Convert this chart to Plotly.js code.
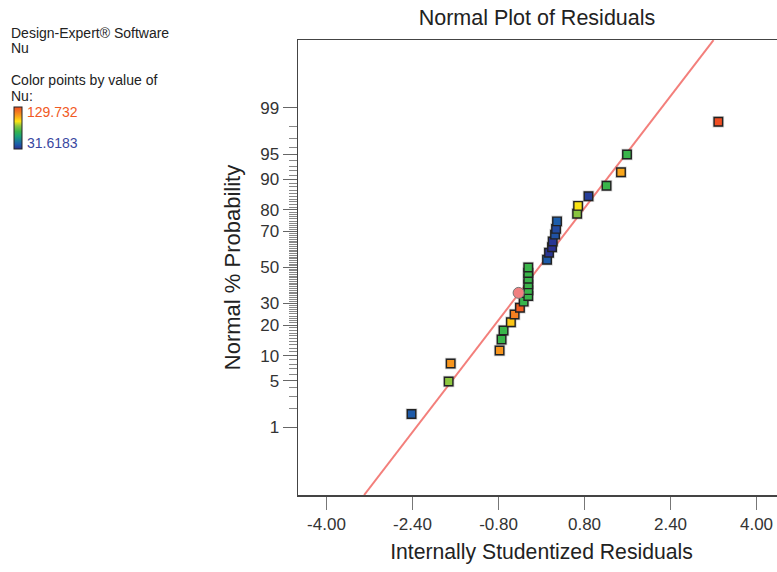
<!DOCTYPE html>
<html>
<head>
<meta charset="utf-8">
<script src="https://cdn.plot.ly/plotly-3.0.1.min.js"></script>
<style>
html,body{margin:0;padding:0;overflow:hidden;background:#fff;}
#chart{width:785px;height:572px;}
</style>
</head>
<body>
<div id="chart"></div>
<script>
// ---- data ----
const residuals = [-2.418, -1.727, -1.690, -0.780, -0.743, -0.706, -0.569, -0.500, -0.401, -0.332,
  -0.246, -0.246, -0.246, -0.246, -0.246, -0.246,
  0.103, 0.140, 0.196, 0.209, 0.252, 0.271, 0.289,
  0.663, 0.681, 0.874, 1.210, 1.479, 1.591, 3.290];
const normalProb = [1.65, 4.86, 8.12, 11.35, 14.73, 17.96, 21.3, 24.7, 27.9, 31.0,
  33.9, 37.1, 40.3, 43.5, 46.8, 50.0,
  54.5, 58.5, 61.6, 64.7, 68.4, 71.3, 74.9,
  78.3, 81.5, 85.0, 88.3, 91.7, 95.0, 98.3];
const nuValues = [42, 85.6, 112, 112, 73, 73, 102, 117, 126, 72,
  73, 73, 73, 73, 73, 73,
  42, 33, 31.6183, 33, 40, 38, 43,
  85, 96, 35, 73, 108, 73, 129.732];
const nuMin = 31.6183;
const nuMax = 129.732;

const highlightResid = [-0.426];
const highlightProb = [35.6];

const fitResid = [-3.30, 3.20];
const fitProb = [0.0466, 99.953];

const xTickVals = [-4.0, -2.4, -0.8, 0.8, 2.4, 4.0];
const yTickProbs = [1, 5, 10, 20, 30, 50, 70, 80, 90, 95, 99];
const yMinorProbs = [];
for (let p = 1; p <= 99; p++) if (yTickProbs.indexOf(p) < 0) yMinorProbs.push(p);

const legendLines = ['Design-Expert® Software', 'Nu', 'Color points by value of', 'Nu:'];

// ---- inverse normal CDF (Acklam) ----
function probit(pct) {
  const p = pct / 100;
  const a = [-3.969683028665376e+01, 2.209460984245205e+02, -2.759285104469687e+02, 1.383577518672690e+02, -3.066479806614716e+01, 2.506628277459239e+00];
  const b = [-5.447609879822406e+01, 1.615858368580409e+02, -1.556989798598866e+02, 6.680131188771972e+01, -1.328068155288572e+01];
  const c = [-7.784894002430293e-03, -3.223964580411365e-01, -2.400758277161838e+00, -2.549732539343734e+00, 4.374664141464968e+00, 2.938163982698783e+00];
  const d = [7.784695709041462e-03, 3.224671290700398e-01, 2.445134137142996e+00, 3.754408661907416e+00];
  const pl = 0.02425, ph = 1 - pl;
  let q, r;
  if (p < pl) {
    q = Math.sqrt(-2 * Math.log(p));
    return (((((c[0]*q+c[1])*q+c[2])*q+c[3])*q+c[4])*q+c[5]) / ((((d[0]*q+d[1])*q+d[2])*q+d[3])*q+1);
  } else if (p <= ph) {
    q = p - 0.5; r = q * q;
    return (((((a[0]*r+a[1])*r+a[2])*r+a[3])*r+a[4])*r+a[5])*q / (((((b[0]*r+b[1])*r+b[2])*r+b[3])*r+b[4])*r+1);
  } else {
    q = Math.sqrt(-2 * Math.log(1 - p));
    return -(((((c[0]*q+c[1])*q+c[2])*q+c[3])*q+c[4])*q+c[5]) / ((((d[0]*q+d[1])*q+d[2])*q+d[3])*q+1);
  }
}

const deScale = [
  [0.00, '#2b3192'], [0.12, '#1b5fab'], [0.30, '#1aa27a'], [0.42, '#39b54a'],
  [0.55, '#8dc63f'], [0.66, '#ffe512'], [0.78, '#f9a51b'], [0.88, '#f47b20'], [1.00, '#f04e23']
];

const W = 785, H = 572;
const L = 298, T = 40, B = 77;
const PW = W - L, PH = H - T - B;
const px = x => (x - L) / PW;
const py = y => (H - B - y) / PH;

const traces = [
  {
    x: fitResid, y: fitProb.map(probit), mode: 'lines', type: 'scatter',
    line: {color: '#f37f7b', width: 2}, hoverinfo: 'skip'
  },
  {
    x: residuals, y: normalProb.map(probit), mode: 'markers', type: 'scatter',
    marker: {symbol: 'square', size: 11.5, color: 'rgba(90,90,90,0.28)', line: {width: 0}},
    hoverinfo: 'skip'
  },
  {
    x: residuals, y: normalProb.map(probit), mode: 'markers', type: 'scatter',
    marker: {
      symbol: 'square', size: 8.5, color: nuValues, cmin: nuMin, cmax: nuMax,
      colorscale: deScale, line: {color: '#222', width: 1.4},
      showscale: true,
      colorbar: {
        xref: 'paper', yref: 'paper',
        x: px(14), xanchor: 'left', y: py(106.5), yanchor: 'top',
        lenmode: 'pixels', len: 42, thicknessmode: 'pixels', thickness: 8,
        xpad: 0, ypad: 0, outlinewidth: 1, outlinecolor: '#222', borderwidth: 0,
        showticklabels: false, ticks: ''
      }
    }
  },
  {
    x: highlightResid, y: highlightProb.map(probit), mode: 'markers', type: 'scatter',
    marker: {symbol: 'circle', size: 11, color: '#f08080', line: {color: '#777', width: 1}}
  }
];

const ann = [];
const lineY = [33, 48, 80, 95.5];
legendLines.forEach((t, i) => ann.push({
  text: t, xref: 'paper', yref: 'paper', x: px(9), y: py(lineY[i]),
  xanchor: 'left', yanchor: 'middle', showarrow: false,
  font: {size: 14, color: '#222'}
}));
ann.push({text: String(nuMax), xref: 'paper', yref: 'paper', x: px(25), y: py(112),
  xanchor: 'left', yanchor: 'middle', showarrow: false, font: {size: 14, color: '#f15a24'}});
ann.push({text: String(nuMin), xref: 'paper', yref: 'paper', x: px(25), y: py(143),
  xanchor: 'left', yanchor: 'middle', showarrow: false, font: {size: 14, color: '#3a47a0'}});

const layout = {
  width: W, height: H,
  margin: {l: L, r: 0, t: T, b: B, autoexpand: false},
  paper_bgcolor: '#fff', plot_bgcolor: '#fff',
  font: {family: '"Liberation Sans", Arial, sans-serif', color: '#222'},
  showlegend: false,
  title: {
    text: 'Normal Plot of Residuals', font: {size: 21.5, color: '#222'},
    xref: 'paper', x: px(537), xanchor: 'center',
    yref: 'container', y: 1 - 17 / H, yanchor: 'middle'
  },
  xaxis: {
    range: [-4.53, 4.53], tickmode: 'array', tickvals: xTickVals,
    ticktext: xTickVals.map(v => v.toFixed(2)),
    ticks: 'outside', ticklen: 13, tickwidth: 1.5, tickcolor: '#777',
    showline: true, linecolor: '#444', linewidth: 1.5, mirror: true,
    showgrid: false, zeroline: false,
    tickfont: {size: 17, color: '#333'},
    title: {text: 'Internally Studentized Residuals', font: {size: 21.2, color: '#222'}, standoff: 11}
  },
  yaxis: {
    range: [-3.31, 3.31], tickmode: 'array',
    tickvals: yTickProbs.map(probit), ticktext: yTickProbs.map(String),
    ticks: 'outside', ticklen: 14, tickwidth: 1.5, tickcolor: '#666',
    minor: {tickmode: 'array', tickvals: yMinorProbs.map(probit), ticks: 'outside', ticklen: 8, tickwidth: 1, tickcolor: '#888'},
    showline: true, linecolor: '#444', linewidth: 1.5, mirror: true,
    showgrid: false, zeroline: false,
    tickfont: {size: 17, color: '#333'},
    title: {text: 'Normal % Probability', font: {size: 22, color: '#222'}, standoff: 13}
  },
  annotations: ann
};

Plotly.newPlot('chart', traces, layout, {displayModeBar: false, staticPlot: true});
</script>
</body>
</html>
